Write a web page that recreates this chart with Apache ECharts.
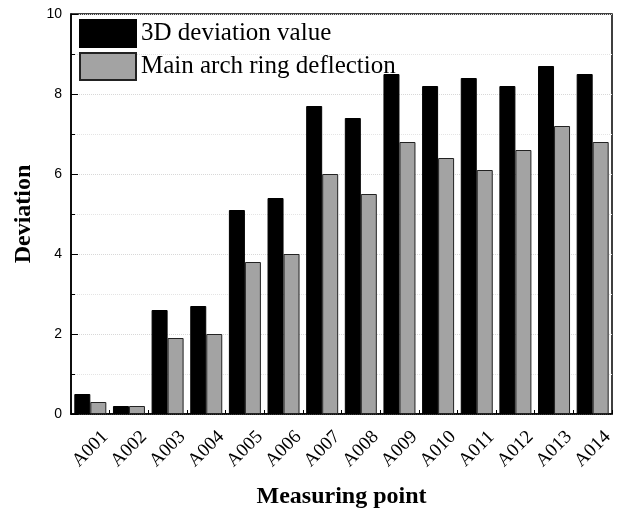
<!DOCTYPE html>
<html>
<head>
<meta charset="utf-8">
<script src="https://cdn.jsdelivr.net/npm/echarts@6/dist/echarts.min.js"></script>
<style>html,body{margin:0;padding:0;background:#fff;}#c{width:629px;height:514px;}</style>
</head>
<body>
<div id="c"></div>
<script>
const categories = ['A001','A002','A003','A004','A005','A006','A007','A008','A009','A010','A011','A012','A013','A014'];
const deviation3D = [0.5,0.2,2.6,2.7,5.1,5.4,7.7,7.4,8.5,8.2,8.4,8.2,8.7,8.5];
const archDeflection = [0.3,0.2,1.9,2.0,3.8,4.0,6.0,5.5,6.8,6.4,6.1,6.6,7.2,6.8];
const yTicks = [0,2,4,6,8,10];

const serif = '"Liberation Serif","Times New Roman",serif';
const sans = '"Liberation Sans",Arial,sans-serif';
const chart = echarts.init(document.getElementById('c'));
chart.setOption({
  animation: false,
  backgroundColor: '#fff',
  grid: {left: 71, right: 17, top: 14, bottom: 100, show: true, borderColor: '#000', borderWidth: 1.5, backgroundColor: 'transparent', containLabel: false, outerBoundsMode: 'none'},
  legend: {
    orient: 'vertical', left: 74, top: 14, itemWidth: 56, itemHeight: 27, itemGap: 4, icon: 'rect',
    textStyle: {fontFamily: serif, fontSize: 25, color: '#000'},
    data: ['3D deviation value', 'Main arch ring deflection']
  },
  xAxis: {
    type: 'category', data: categories,
    axisLine: {lineStyle: {color: '#000', width: 1.5}},
    axisTick: {show: true, inside: true, length: 4, lineStyle: {color: '#000'}},
    axisLabel: {rotate: 45, align: 'center', verticalAlign: 'middle', margin: 35, fontFamily: serif, fontSize: 19, color: '#000', interval: 0},
    name: 'Measuring point', nameLocation: 'middle', nameGap: 71,
    nameTextStyle: {fontFamily: serif, fontSize: 24, fontWeight: 'bold', color: '#000'}
  },
  yAxis: {
    type: 'value', min: yTicks[0], max: yTicks[yTicks.length-1], interval: 2,
    axisLine: {show: true, lineStyle: {color: '#000', width: 1.5}},
    axisTick: {show: true, inside: true, length: 7, lineStyle: {color: '#000'}},
    minorTick: {show: true, splitNumber: 2, length: 4, lineStyle: {color: '#000'}},
    splitLine: {show: true, lineStyle: {color: '#d8d8d8', type: 'dotted', width: 1}},
    minorSplitLine: {show: true, lineStyle: {color: '#e4e4e4', type: 'dotted', width: 1}},
    axisLabel: {fontFamily: sans, fontSize: 14, color: '#000', margin: 9},
    name: 'Deviation', nameLocation: 'middle', nameGap: 34,
    nameTextStyle: {fontFamily: serif, fontSize: 24, fontWeight: 'bold', color: '#000'}
  },
  series: [
    {name: '3D deviation value', type: 'bar', data: deviation3D, barWidth: 16, barGap: '0%',
     itemStyle: {color: '#000', borderColor: '#000', borderWidth: 1}},
    {name: 'Main arch ring deflection', type: 'bar', data: archDeflection, barWidth: 16, barGap: '0%',
     itemStyle: {color: '#a3a3a3', borderColor: '#222', borderWidth: 1}}
  ]
});
</script>
</body>
</html>
